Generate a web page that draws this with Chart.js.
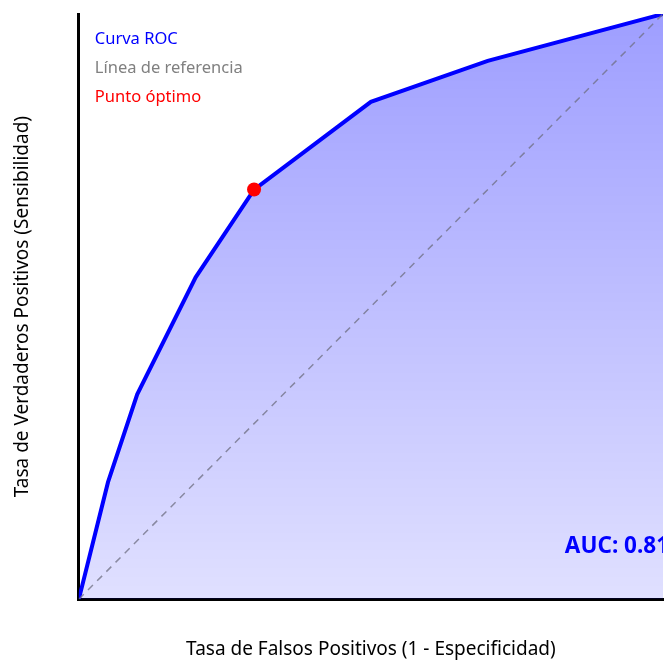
<!DOCTYPE html>
<html>
<head>
<meta charset="utf-8">
<script src="https://cdn.jsdelivr.net/npm/chart.js@4.4.1/dist/chart.umd.min.js"></script>
<style>
  html, body { margin: 0; padding: 0; background: #fff; }
  #wrap { width: 672px; height: 662px; }
</style>
</head>
<body>
<div id="wrap"><canvas id="roc"></canvas></div>
<script>
// datos de la curva ROC
const fpr = [0, 0.05, 0.1, 0.2, 0.3, 0.5, 0.7, 1];
const tpr = [0, 0.2, 0.35, 0.55, 0.7, 0.85, 0.92, 1];
const refX = [0, 1];
const refY = [0, 1];
const optimoX = [0.3];
const optimoY = [0.7];
const leyenda = ['Curva ROC', 'Línea de referencia', 'Punto óptimo'];
const colLeyenda = ['#0000ff', '#808080', '#ff0000'];
const aucTexto = 'AUC: 0.81';

const FONT = "'Noto Sans', 'Open Sans', sans-serif";

// leyenda y AUC dibujados dentro del area
const textos = {
    id: 'textos',
    afterDatasetsDraw(chart) {
        const ctx = chart.ctx;
        const a = chart.chartArea;
        ctx.save();
        ctx.font = '16.5px ' + FONT;
        ctx.textBaseline = 'middle';
        ctx.textAlign = 'left';
        leyenda.forEach((t, i) => {
            ctx.fillStyle = colLeyenda[i];
            ctx.fillText(t, a.left + 16, a.top + 25 + i * 29);
        });
        ctx.beginPath();
        ctx.rect(a.left, a.top, a.right - a.left, a.bottom - a.top);
        ctx.clip();
        ctx.font = 'bold 22.5px ' + FONT;
        ctx.fillStyle = '#0000ff';
        ctx.textAlign = 'right';
        ctx.fillText(aucTexto, a.right + 6, a.bottom - 53);
        ctx.restore();
    }
};

const ctx1 = document.getElementById('roc').getContext('2d');
const myChart1 = new Chart(ctx1, {
    type: 'line',
    data: {
        datasets: [{
            label: 'Punto óptimo',
            data: optimoX.map((x, i) => ({ x: x, y: optimoY[i] })),
            showLine: false,
            pointRadius: 7,
            pointBackgroundColor: '#ff0000',
            pointBorderWidth: 0,
            order: 0
        }, {
            label: 'Curva ROC',
            data: fpr.map((x, i) => ({ x: x, y: tpr[i] })),
            borderColor: '#0000ff',
            borderWidth: 4,
            pointRadius: 0,
            tension: 0,
            fill: 'origin',
            backgroundColor: function (c) {
                const a = c.chart.chartArea;
                if (!a) return 'rgba(0,0,255,0.3)';
                const g = c.chart.ctx.createLinearGradient(0, a.top, 0, a.bottom);
                g.addColorStop(0, 'rgba(0,0,255,0.38)');
                g.addColorStop(1, 'rgba(0,0,255,0.12)');
                return g;
            },
            order: 2
        }, {
            label: 'Línea de referencia',
            data: refX.map((x, i) => ({ x: x, y: refY[i] })),
            borderColor: 'rgba(110,110,130,0.75)',
            borderWidth: 1.5,
            borderDash: [7, 6],
            pointRadius: 0,
            fill: false,
            order: 1
        }]
    },
    options: {
        responsive: true,
        maintainAspectRatio: false,
        animation: false,
        layout: { padding: { top: 14, right: 9, left: 11, bottom: 1 } },
        plugins: {
            legend: { display: false },
            tooltip: { enabled: false }
        },
        scales: {
            x: {
                type: 'linear',
                min: 0,
                max: 1,
                grid: { display: false },
                border: { display: true, color: '#000', width: 3 },
                ticks: { display: false },
                title: {
                    display: true,
                    text: 'Tasa de Falsos Positivos (1 - Especificidad)',
                    color: '#000',
                    font: { size: 19, family: FONT },
                    padding: { top: 31, bottom: 0 }
                }
            },
            y: {
                type: 'linear',
                min: 0,
                max: 1,
                grid: { display: false },
                border: { display: true, color: '#000', width: 3 },
                ticks: { display: false },
                title: {
                    display: true,
                    text: 'Tasa de Verdaderos Positivos (Sensibilidad)',
                    color: '#000',
                    font: { size: 19, family: FONT },
                    padding: { top: 0, bottom: 37 }
                }
            }
        }
    },
    plugins: [textos]
});
</script>
</body>
</html>
